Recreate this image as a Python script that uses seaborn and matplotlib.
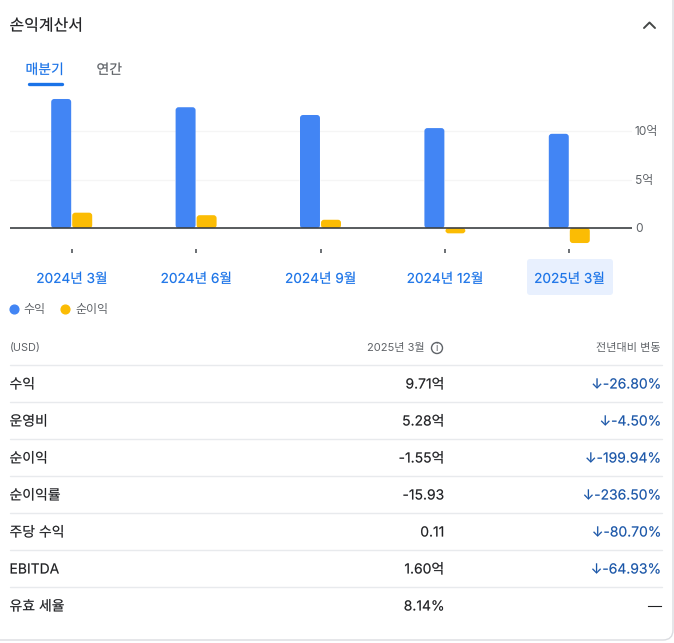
import pandas as pd
import matplotlib.pyplot as plt
import matplotlib.patheffects as pe
import seaborn as sns
from matplotlib.lines import Line2D
from matplotlib.patches import FancyBboxPatch, Circle

# ===== data =====
quarters = ['2024년 3월', '2024년 6월', '2024년 9월', '2024년 12월', '2025년 3월']
revenue = [13.3, 12.45, 11.65, 10.3, 9.71]
net_income = [1.58, 1.32, 0.85, -0.55, -1.55]
series_names = ['수익', '순이익']
y_ticks = [0, 5, 10]
y_tick_labels = ['0', '5억', '10억']

row_names = ['수익', '운영비', '순이익', '순이익률', '주당 수익', 'EBITDA', '유효 세율']
row_values = ['9.71억', '5.28억', '-1.55억', '-15.93', '0.11', '1.60억', '8.14%']
row_changes = ['↓-26.80%', '↓-4.50%', '↓-199.94%', '↓-236.50%', '↓-80.70%', '↓-64.93%', '—']

W, H = 674, 643
BLUE, YELLOW = '#4285f4', '#fbbc04'
LINK = '#1a73e8'
GREY = '#5f6368'
DARK = '#202124'

sns.set_theme(style='white')
plt.rcParams['font.family'] = ['Inter', 'Noto Sans CJK KR', 'DejaVu Sans']


def medium(color):
    # the CJK font has no medium weight here, thicken the strokes a little
    return [pe.withStroke(linewidth=0.25, foreground=color, alpha=0.3)]


df = pd.DataFrame({
    'quarter': quarters * 2,
    'series': [series_names[0]] * 5 + [series_names[1]] * 5,
    'value': revenue + net_income,
})

fig = plt.figure(figsize=(W / 100, H / 100), dpi=100, facecolor='white')

# background layer in pixel coordinates, for everything around the chart
bg = fig.add_axes([0, 0, 1, 1], zorder=0)
bg.set_xlim(0, W)
bg.set_ylim(H, 0)
bg.axis('off')

bg.add_patch(FancyBboxPatch((-12, -12), 685, 652, boxstyle='round,pad=0,rounding_size=10',
                            fc='white', ec='#dadce0', lw=1))

bg.text(9.5, 26, '손익계산서', fontsize=11.5, color=DARK, va='center', path_effects=medium(DARK))
bg.plot([644, 649.5, 655], [28, 22.5, 28], color='#444746', lw=1.4)

# tabs
bg.text(25.5, 70, '매분기', fontsize=10, color=LINK, va='center', path_effects=medium(LINK))
bg.text(96.5, 70, '연간', fontsize=10, color=GREY, va='center', path_effects=medium(GREY))
bg.plot([29, 62], [83.5, 83.5], color=LINK, lw=2.4, solid_capstyle='round')

# selected quarter
bg.add_patch(FancyBboxPatch((527, 259), 86, 36, boxstyle='round,pad=0,rounding_size=3',
                            fc='#e8f0fe', ec='none'))

# chart
ax = fig.add_axes([9.5 / W, 1 - 249 / H, 622 / W, 154 / H], zorder=1)
ax.patch.set_alpha(0)
sns.barplot(data=df, x='quarter', y='value', hue='series', palette=[BLUE, YELLOW],
            width=0.338, gap=0.05, saturation=1, legend=False, ax=ax)
ax.set_xlim(-0.5, 4.5)
ax.set_ylim(-21 / 9.7, 133 / 9.7)

# rounded bar ends: keep the bar's base square, round the far end
for bar in list(ax.patches):
    x0, w, h = bar.get_x(), bar.get_width(), bar.get_height()
    if h == 0:
        continue
    r_x = 3 / 124.4
    r_y = 3 / 9.7
    ymin, ymax = min(0, h), max(0, h)
    ax.add_patch(FancyBboxPatch((x0 + r_x, ymin + r_y), w - 2 * r_x, ymax - ymin - 2 * r_y,
                                boxstyle=f'round,pad={r_x},rounding_size={r_x}',
                                mutation_aspect=r_y / r_x, fc=bar.get_facecolor(), ec='none',
                                zorder=3, snap=False))
    bar.set_height(h / 2)
    bar.set_zorder(3)
    bar.set_snap(False)

ax.axhline(0, color='#3c4043', lw=1.2, zorder=4)
ax.set_xlabel('')
ax.set_ylabel('')
ax.set_yticks(y_ticks, y_tick_labels)
ax.yaxis.tick_right()
ax.tick_params(axis='y', length=0, pad=2.5, labelsize=8.6, labelcolor=GREY)
ax.tick_params(axis='x', length=3, width=1.3, color='#5f6368', pad=13.5, labelsize=9.8, labelcolor=LINK)
for lab in ax.get_xticklabels():
    lab.set_path_effects(medium(LINK))
ax.xaxis.set_ticks_position('bottom')
ax.grid(axis='y', color='#f5f5f5', lw=1)
ax.set_axisbelow(True)
sns.despine(ax=ax, left=True, right=True, top=True, bottom=True)

# legend
handles = [Line2D([], [], ls='', marker='o', ms=6.3, color=c, label=n)
           for c, n in zip([BLUE, YELLOW], series_names)]
bg.legend(handles=handles, ncol=2, frameon=False, fontsize=8.6, labelcolor=GREY,
          loc='center left', bbox_to_anchor=(-2 / W, 1 - 310 / H), bbox_transform=fig.transFigure,
          handletextpad=0.0, columnspacing=0.9, borderpad=0, handlelength=1.6)

# table
bg.text(9.5, 348.5, '(USD)', fontsize=7.8, color=GREY, va='center')
bg.text(425, 348.5, '2025년 3월', fontsize=8, color=GREY, va='center', ha='right')
bg.add_patch(Circle((437, 348), 5.5, fc='none', ec=GREY, lw=1))
bg.text(437, 348, 'i', fontsize=7, color=GREY, va='center', ha='center')
bg.text(661, 348.5, '전년대비 변동', fontsize=8, color=GREY, va='center', ha='right')

for i, (name, value, change) in enumerate(zip(row_names, row_values, row_changes)):
    line_y = 365 + 37 * i
    text_y = line_y + 19.5
    change_color = DARK if change == '—' else '#1a56a8'
    bg.plot([10, 662], [line_y, line_y], color='#e8eaed', lw=1)
    bg.text(9.5, text_y, name, fontsize=10, color=DARK, va='center',
            path_effects=medium(DARK))
    bg.text(444.5, text_y, value, fontsize=10, color=DARK, va='center', ha='right',
            path_effects=medium(DARK))
    bg.text(661.5, text_y, change, fontsize=10, color=change_color, va='center', ha='right',
            path_effects=medium(change_color))

bg.set_xlim(0, W)
bg.set_ylim(H, 0)

plt.savefig('out.png', dpi=100)
